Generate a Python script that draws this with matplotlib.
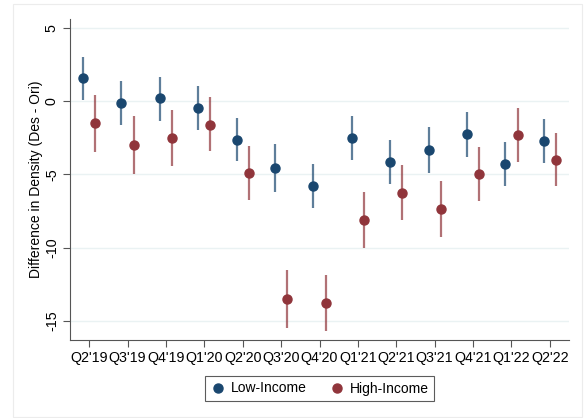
import numpy as np
import matplotlib
matplotlib.use('Agg')
import matplotlib.pyplot as plt
from matplotlib.lines import Line2D
from matplotlib.patches import Rectangle

plt.rcParams['font.family'] = ['Liberation Sans', 'DejaVu Sans']

quarters = ["Q2'19", "Q3'19", "Q4'19", "Q1'20", "Q2'20", "Q3'20", "Q4'20",
            "Q1'21", "Q2'21", "Q3'21", "Q4'21", "Q1'22", "Q2'22"]

# low-income estimates and 95% CI
low_est = [1.6, -0.1, 0.2, -0.45, -2.65, -4.55, -5.8, -2.5, -4.15, -3.35, -2.25, -4.3, -2.75]
low_hi = [3.0, 1.4, 1.65, 1.0, -1.15, -2.9, -4.3, -1.0, -2.65, -1.8, -0.75, -2.8, -1.25]
low_lo = [0.1, -1.6, -1.35, -2.0, -4.1, -6.2, -7.3, -4.0, -5.65, -4.9, -3.8, -5.8, -4.25]

# high-income estimates and 95% CI
high_est = [-1.5, -3.0, -2.5, -1.6, -4.9, -13.5, -13.8, -8.1, -6.25, -7.35, -4.95, -2.3, -4.0]
high_hi = [0.4, -1.05, -0.6, 0.25, -3.05, -11.5, -11.85, -6.2, -4.35, -5.45, -3.15, -0.5, -2.2]
high_lo = [-3.45, -5.0, -4.45, -3.4, -6.75, -15.5, -15.7, -10.0, -8.1, -9.25, -6.8, -4.15, -5.8]

navy = '#1a476f'
maroon = '#90353b'

fig = plt.figure(figsize=(5.85, 4.18), dpi=100)
fig.patches.append(Rectangle((13/585, 1/418), 569/585, 413/418, transform=fig.transFigure,
                             fill=False, edgecolor='#ececec', lw=0.8))
ax = fig.add_axes([70/585, 78/418, 499/585, 321/418])

x = np.arange(len(quarters))
off = 0.16

ax.vlines(x - off, low_lo, low_hi, color=navy, alpha=0.7, lw=1.6, zorder=2)
ax.plot(x - off, low_est, 'o', color=navy, ms=6.5, zorder=3)
ax.vlines(x + off, high_lo, high_hi, color=maroon, alpha=0.7, lw=1.6, zorder=2)
ax.plot(x + off, high_est, 'o', color=maroon, ms=6.5, zorder=3)

ax.set_xlim(-0.5, 12.5)
ax.set_ylim(-16.3, 5.6)
ax.set_xticks(x)
ax.set_xticklabels(quarters, fontsize=10.3)
ax.set_yticks([5, 0, -5, -10, -15])
ax.set_yticklabels(['5', '0', '-5', '-10', '-15'], rotation=90, va='center', fontsize=10.3)
ax.tick_params(axis='both', direction='out', length=5, width=0.8, color='#555555', pad=3)
ax.grid(axis='y', color='#eaf2f3', lw=1)
ax.set_axisbelow(True)
for s in ['top', 'right']:
    ax.spines[s].set_visible(False)
for s in ['left', 'bottom']:
    ax.spines[s].set_color('#555555')
    ax.spines[s].set_linewidth(0.8)
ax.set_ylabel('Difference in Density (Des - Ori)', fontsize=10, labelpad=1)

handles = [Line2D([], [], marker='o', ls='none', color=navy, ms=6.5),
           Line2D([], [], marker='o', ls='none', color=maroon, ms=6.5)]
leg = fig.legend(handles, ['Low-Income', 'High-Income'], loc='upper center',
                 bbox_to_anchor=(319.5/585, 1 - 369/418), ncol=2, fontsize=10,
                 frameon=True, fancybox=False, edgecolor='#333333', handletextpad=0.3,
                 columnspacing=1.6, borderpad=0.4, handlelength=1.2)
leg.get_frame().set_linewidth(0.8)

fig.savefig('out.png', dpi=100)
